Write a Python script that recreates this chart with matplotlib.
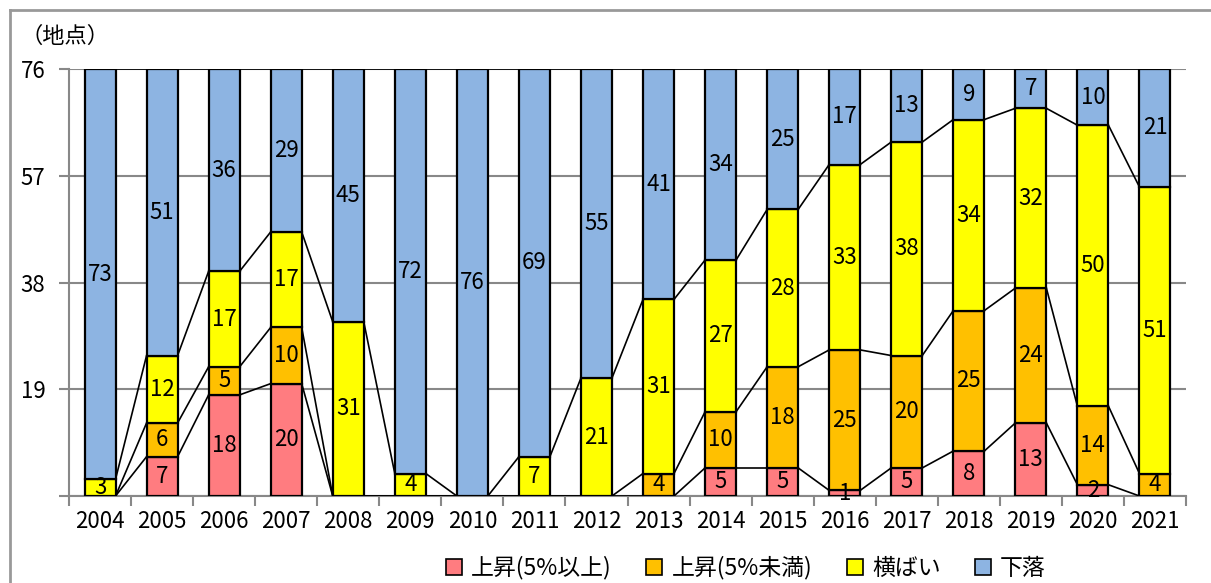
import matplotlib
matplotlib.use('Agg')
import matplotlib.pyplot as plt
from matplotlib.patches import Patch
from matplotlib.lines import Line2D
import numpy as np

plt.rcParams['font.family'] = ['Noto Sans CJK JP', 'DejaVu Sans']

years = ['2004', '2005', '2006', '2007', '2008', '2009', '2010', '2011', '2012',
         '2013', '2014', '2015', '2016', '2017', '2018', '2019', '2020', '2021']
up_high = [0, 7, 18, 20, 0, 0, 0, 0, 0, 0, 5, 5, 1, 5, 8, 13, 2, 0]
up_low = [0, 6, 5, 10, 0, 0, 0, 0, 0, 4, 10, 18, 25, 20, 25, 24, 14, 4]
flat = [3, 12, 17, 17, 31, 4, 0, 7, 21, 31, 27, 28, 33, 38, 34, 32, 50, 51]
down = [73, 51, 36, 29, 45, 72, 76, 69, 55, 41, 34, 25, 17, 13, 9, 7, 10, 21]

series_names = ['上昇(5%以上)', '上昇(5%未満)', '横ばい', '下落']
series_colors = ['#FF7C80', '#FFC000', '#FFFF00', '#8DB4E2']
yticks = [0, 19, 38, 57, 76]

W, H = 1211, 583
fig = plt.figure(figsize=(W / 100, H / 100), dpi=100)
ax = fig.add_axes([69 / W, (H - 496) / H, (1186 - 69) / W, (496 - 69) / H])

fs = 16
x = np.arange(len(years))
bw = 0.5
data = [up_high, up_low, flat, down]
bottom = np.zeros(len(years))
tops = []
for vals, col in zip(data, series_colors):
    vals = np.array(vals)
    ax.bar(x, vals, bw, bottom=bottom, color=col, edgecolor='black', linewidth=1.6, zorder=3)
    for xi, v, b in zip(x, vals, bottom):
        if v > 0:
            ax.text(xi, b + v / 2, str(v), ha='center', va='center', fontsize=fs, zorder=5)
    bottom = bottom + vals
    tops.append(bottom.copy())

# series lines between bars
for lvl in tops:
    for i in range(len(years) - 1):
        ax.plot([x[i] + bw / 2, x[i + 1] - bw / 2], [lvl[i], lvl[i + 1]],
                color='black', lw=1.2, zorder=4)

ax.set_xlim(-0.5, len(years) - 0.5)
ax.set_ylim(0, 76)
ax.set_yticks(yticks)
ax.set_yticklabels([''] + [str(t) for t in yticks[1:]], fontsize=fs)
ax.set_xticks(x)
ax.set_xticklabels(years, fontsize=fs)
ax.set_xticks(np.arange(-0.5, len(years), 1), minor=True)
ax.tick_params(axis='x', which='major', length=0, pad=10)
ax.tick_params(axis='x', which='minor', length=7, color='#888888', width=1.5)
ax.tick_params(axis='y', length=7, color='#888888', width=1.5, pad=10)
ax.yaxis.grid(True, color='#888888', lw=1.5, zorder=0)
ax.set_axisbelow(True)
for s in ['top', 'right']:
    ax.spines[s].set_visible(False)
for s in ['left', 'bottom']:
    ax.spines[s].set_color('#888888')
    ax.spines[s].set_linewidth(1.5)

fig.text(20 / W, 1 - 36 / H, '（地点）', fontsize=fs, ha='left', va='center')

handles = [Patch(facecolor=c, edgecolor='black', linewidth=1.2) for c in series_colors]
fig.legend(handles, series_names, loc='center', bbox_to_anchor=(746 / W, 1 - 568 / H),
           ncol=4, frameon=False, fontsize=16.5, handlelength=0.7, handleheight=0.7,
           handletextpad=0.4, columnspacing=1.5)

# outer chart border
fig.add_artist(Line2D([10 / W, 10 / W], [0, 1 - 10 / H], color='#999999', lw=2))
fig.add_artist(Line2D([10 / W, 1], [1 - 10 / H, 1 - 10 / H], color='#999999', lw=2))

fig.savefig('out.png', dpi=100)
